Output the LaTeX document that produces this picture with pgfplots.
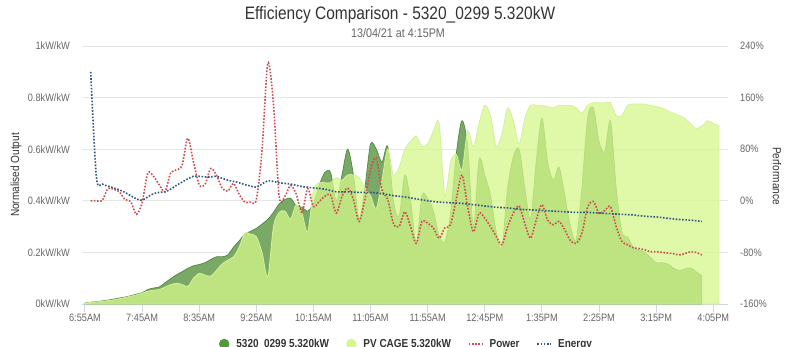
\documentclass[border=0pt]{standalone}
\usepackage{pgfplots}
\usepackage{pgfplotstable}
\pgfplotsset{compat=1.18}
\usepackage{fontspec}
\setmainfont{Liberation Sans}[FakeStretch=0.86]

\definecolor{cdark}{HTML}{529A38}
\definecolor{cdarkfill}{HTML}{7AA867}
\definecolor{cdarkline}{HTML}{4E8A3E}
\definecolor{clight}{HTML}{D6F78B}
\definecolor{clightline}{HTML}{D3F296}
\definecolor{cred}{HTML}{CF4D50}
\definecolor{cblue}{HTML}{2F5783}
\definecolor{cgrid}{HTML}{E6E6E6}
\definecolor{caxis}{HTML}{CCD6EB}
\definecolor{ctick}{HTML}{666666}
\definecolor{ctitle}{HTML}{333333}

\pgfplotsset{shortline/.style={legend image code/.code={\draw[##1] (0pt,0pt) -- (13pt,0pt);}}}

\pgfplotstableread{
m v
0 0.004
5 0.007
10 0.009
15 0.012
20 0.015
25 0.019
30 0.023
35 0.027
40 0.032
45 0.038
50 0.044
55 0.056
60 0.062
65 0.066
70 0.082
75 0.098
80 0.113
85 0.125
90 0.138
95 0.148
100 0.153
105 0.160
110 0.172
115 0.183
120 0.183
125 0.190
130 0.220
135 0.245
140 0.270
145 0.282
150 0.293
155 0.310
160 0.328
165 0.355
170 0.388
175 0.405
180 0.410
185 0.380
190 0.375
195 0.360
200 0.390
205 0.460
210 0.510
215 0.510
220 0.400
225 0.500
230 0.600
235 0.500
240 0.330
245 0.450
250 0.620
255 0.600
260 0.550
265 0.610
270 0.400
275 0.340
280 0.500
285 0.400
290 0.235
295 0.420
300 0.410
305 0.360
310 0.265
315 0.240
320 0.350
325 0.580
330 0.710
335 0.610
340 0.300
345 0.560
350 0.500
355 0.420
360 0.280
365 0.220
370 0.450
375 0.570
380 0.600
385 0.450
390 0.330
395 0.550
400 0.720
405 0.550
410 0.480
415 0.530
420 0.420
425 0.300
430 0.250
435 0.450
440 0.720
445 0.760
450 0.630
455 0.590
460 0.710
465 0.450
470 0.280
475 0.260
480 0.220
485 0.210
490 0.200
495 0.180
500 0.160
505 0.160
510 0.155
515 0.140
520 0.130
525 0.135
530 0.140
535 0.125
540 0.110
}\darktab

\pgfplotstableread{
m v
0 0.003
5 0.006
10 0.008
15 0.010
20 0.013
25 0.016
30 0.020
35 0.025
40 0.030
45 0.035
50 0.042
55 0.050
60 0.053
65 0.056
70 0.065
75 0.075
80 0.080
85 0.076
90 0.068
95 0.100
100 0.119
105 0.112
110 0.108
115 0.130
120 0.155
125 0.170
130 0.183
135 0.220
140 0.275
145 0.270
150 0.261
155 0.200
160 0.106
165 0.300
170 0.355
175 0.360
180 0.330
185 0.385
190 0.350
195 0.280
200 0.440
205 0.470
210 0.470
215 0.470
220 0.490
225 0.480
230 0.500
235 0.500
240 0.490
245 0.450
250 0.420
255 0.370
260 0.480
265 0.600
270 0.500
275 0.530
280 0.600
285 0.630
290 0.650
295 0.610
300 0.620
305 0.670
310 0.700
315 0.420
320 0.550
325 0.580
330 0.520
335 0.670
340 0.610
345 0.700
350 0.770
355 0.730
360 0.610
365 0.660
370 0.760
375 0.710
380 0.620
385 0.720
390 0.770
395 0.770
400 0.770
405 0.765
410 0.760
415 0.770
420 0.770
425 0.770
430 0.760
435 0.740
440 0.770
445 0.780
450 0.780
455 0.780
460 0.780
465 0.730
470 0.730
475 0.770
480 0.775
485 0.775
490 0.775
495 0.770
500 0.765
505 0.760
510 0.750
515 0.740
520 0.730
525 0.720
530 0.700
535 0.680
540 0.690
545 0.710
550 0.700
555 0.690
}\lighttab

\pgfplotstableread{
m p
5 0
10 0
15 0
20 19
25 18
30 14
35 2
40 -1
45 -21
50 -3
55 43
60 38
65 25
70 14
75 43
80 48
85 55
90 97
95 60
100 25
105 25
110 50
115 40
120 20
125 15
130 27
135 10
140 -2
145 -2
150 2
155 79
160 213
165 150
170 7
175 7
180 24
185 10
190 -18
195 19
200 -9
205 -1
210 7
215 9
220 -19
225 7
230 20
235 2
240 -32
245 2
250 48
255 66
260 17
265 2
270 -35
275 -40
280 -17
285 -40
290 -66
295 -32
300 -35
305 -42
310 -58
315 -42
320 -37
325 2
330 40
335 -9
340 -48
345 -19
350 -27
355 -40
360 -55
365 -68
370 -40
375 -19
380 -8
385 -35
390 -58
395 -30
400 -6
405 -30
410 -37
415 -32
420 -45
425 -62
430 -66
435 -50
440 -10
445 -1
450 -19
455 -15
460 -9
465 -40
470 -63
475 -68
480 -73
485 -74
490 -76
495 -79
500 -79
505 -80
510 -81
515 -82
520 -84
525 -82
530 -79
535 -80
540 -84
}\powtab

\pgfplotstableread{
m p
5 200
10 37
15 26
20 23
25 20
30 17
35 13
40 8
45 3
50 1
55 6
60 11
65 13
70 14
75 18
80 24
85 29
90 34
95 38
100 38
105 37
110 37
115 38
120 35
125 32
130 30
135 28
140 25
145 23
150 21
155 26
160 31
165 30
170 28
175 27
180 26
185 24
190 22
195 21
200 20
210 18
220 14
230 14
240 13
250 13
260 11
270 8
280 6
290 3
300 0
310 -2
320 -3
330 -4
340 -6
350 -8
360 -10
370 -11
380 -13
390 -14
400 -15
410 -16
420 -17
430 -18
440 -18
450 -19
460 -20
470 -21
480 -22
490 -24
500 -25
510 -27
520 -29
530 -30
540 -32
}\enetab

\begin{document}
\begin{tikzpicture}
\useasboundingbox (0pt,0pt) rectangle (800pt,346pt);
\clip (0pt,0pt) rectangle (800pt,346pt);
\node[anchor=base, inner sep=0pt, font=\fontsize{18}{21}\selectfont, text=ctitle] at (400pt,326pt) {Efficiency Comparison - 5320\_0299 5.320kW};
\node[anchor=base, inner sep=0pt, font=\fontsize{12.5}{15}\selectfont, text=ctick] at (398pt,308pt) {13/04/21 at 4:15PM};

\begin{axis}[
  at={(82pt,42pt)}, anchor=south west,
  scale only axis, width=646pt, height=258pt,
  xmin=-2.6, xmax=562.9, ymin=0, ymax=1,
  axis x line*=bottom, axis y line*=left,
  x axis line style={draw=caxis, line width=1pt, -},
  y axis line style={draw=none},
  xtick={0,50,100,150,200,250,300,350,400,450,500,550},
  xticklabels={6:55AM,7:45AM,8:35AM,9:25AM,10:15AM,11:05AM,11:55AM,12:45PM,1:35PM,2:25PM,3:15PM,4:05PM},
  xtick style={draw=caxis, line width=1pt},
  tick align=outside, major tick length=8pt,
  ytick={0,0.2,0.4,0.6,0.8,1},
  yticklabels={0kW/kW,0.2kW/kW,0.4kW/kW,0.6kW/kW,0.8kW/kW,1kW/kW},
  ytick style={draw=none},
  ymajorgrids, grid style={draw=cgrid, line width=1pt},
  tick label style={font=\fontsize{10.7}{12}\selectfont, text=ctick, inner sep=0pt},
  xticklabel style={anchor=north, yshift=-2pt},
  yticklabel style={anchor=east, xshift=-4pt},
  ylabel={Normalised Output},
  every axis y label/.style={at={(axis description cs:-0.1022,0.5)}, rotate=90, anchor=center, font=\fontsize{11.7}{13}\selectfont, text=ctitle},
]
\addplot[draw=cdarkline, line width=0.7pt, fill=cdarkfill, smooth] table[x=m,y=v] {\darktab} \closedcycle;
\addplot[draw=clightline, line width=0.8pt, fill=clight, fill opacity=0.75, smooth] table[x=m,y=v] {\lighttab} \closedcycle;
\end{axis}

\begin{axis}[
  at={(82pt,42pt)}, anchor=south west,
  scale only axis, width=646pt, height=258pt,
  xmin=-2.6, xmax=562.9, ymin=-160, ymax=240,
  axis x line=none, axis y line*=right,
  y axis line style={draw=none},
  ytick={-160,-80,0,80,160,240},
  yticklabels={-160\%,-80\%,0\%,80\%,160\%,240\%},
  ytick style={draw=none},
  tick align=outside, major tick length=8pt,
  tick label style={font=\fontsize{10.7}{12}\selectfont, text=ctick, inner sep=0pt},
  yticklabel style={anchor=west, xshift=4pt},
  ylabel={Performance},
  every axis y label/.style={at={(axis description cs:1.0759,0.496)}, rotate=-90, anchor=center, font=\fontsize{11.7}{13}\selectfont, text=ctitle},
  legend style={at={(0.2121,-0.155)}, anchor=west, draw=none, fill=none, inner sep=0pt, outer sep=0pt,
    font=\bfseries\fontsize{11.6}{13}\selectfont, text=ctitle, legend columns=4, nodes={inner sep=0pt},
    /tikz/every odd column/.append style={column sep=7pt},
    /tikz/every even column/.append style={column sep=17pt}},
  legend cell align=left,
]
\addlegendimage{legend image code/.code={\fill[cdark] (5pt,0pt) circle (5pt);}}
\addlegendentry{5320\_0299 5.320kW}
\addlegendimage{legend image code/.code={\fill[clight] (5pt,0pt) circle (5pt);}}
\addlegendentry{PV CAGE 5.320kW}
\addplot[cred, line width=1.6pt, dash pattern=on 1.6pt off 1.6pt, smooth, shortline] table[x=m,y=p] {\powtab};
\addlegendentry{Power}
\addplot[cblue, line width=1.6pt, dash pattern=on 1.6pt off 1.6pt, smooth, shortline] table[x=m,y=p] {\enetab};
\addlegendentry{Energy}
\end{axis}
\end{tikzpicture}
\end{document}
